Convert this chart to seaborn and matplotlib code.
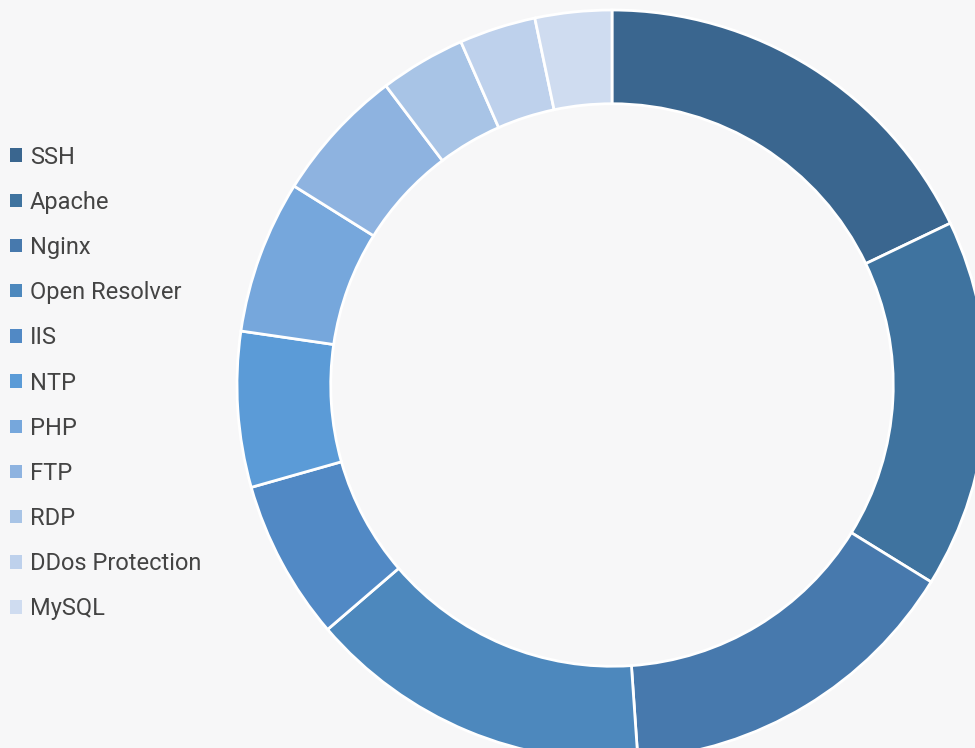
import matplotlib.pyplot as plt
import seaborn as sns

services = ['SSH', 'Apache', 'Nginx', 'Open Resolver', 'IIS', 'NTP', 'PHP', 'FTP', 'RDP', 'DDos Protection', 'MySQL']
shares = [17.9, 15.9, 15.1, 14.8, 6.9, 6.7, 6.6, 5.8, 3.7, 3.3, 3.3]
colors = ['#3a668f', '#3f739f', '#4779ad', '#4d88bd', '#5189c5', '#5b9bd7',
          '#76a7dc', '#8eb3e0', '#a8c4e6', '#bed1ec', '#cfdcf0']

sns.set_theme(style="white", rc={'figure.facecolor': '#f7f7f8', 'axes.facecolor': '#f7f7f8'})
plt.rcParams['font.family'] = ['Roboto', 'DejaVu Sans']

fig = plt.figure(figsize=(9.75, 7.48), dpi=100)
ax = fig.add_axes([237 / 975, -12 / 748, 750 / 975, 750 / 748])
ax.set_axis_off()

wedges, _ = ax.pie(shares, colors=sns.color_palette(colors), startangle=90, counterclock=False,
                   radius=1, wedgeprops=dict(width=0.25, edgecolor='white', linewidth=2))
ax.set_xlim(-1, 1)
ax.set_ylim(-1, 1)
ax.set_aspect('equal')

leg = fig.legend(wedges, services, loc='upper left', bbox_to_anchor=(-0.007, 1 - 129 / 748),
                 frameon=False, fontsize=17, handlelength=0.5, handleheight=0.5,
                 handletextpad=0.35, labelspacing=0.94, borderaxespad=0.3)
for t in leg.get_texts():
    t.set_color('#444444')
for h in leg.legend_handles:
    h.set_edgecolor('none')

plt.savefig('out.png', dpi=100, facecolor=fig.get_facecolor())
